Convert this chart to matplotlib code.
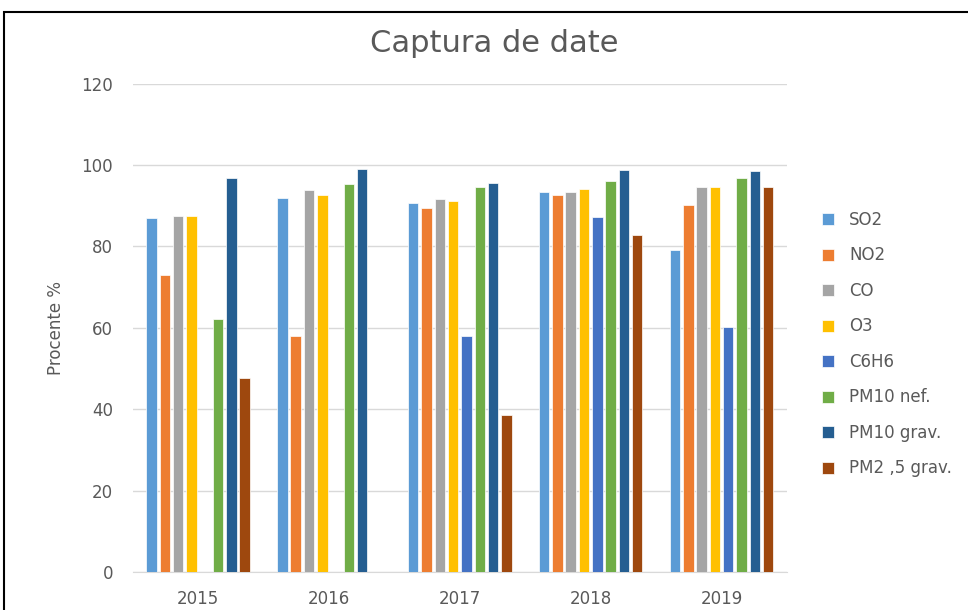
import matplotlib
matplotlib.use('Agg')
import matplotlib.pyplot as plt
import numpy as np
from matplotlib.patches import Rectangle

years = ['2015', '2016', '2017', '2018', '2019']
series = ['SO2', 'NO2', 'CO', 'O3', 'C6H6', 'PM10 nef.', 'PM10 grav.', 'PM2 ,5 grav.']

so2 = [87.1, 92.0, 90.6, 93.4, 79.1]
no2 = [73.1, 58.0, 89.4, 92.7, 90.2]
co = [87.5, 93.9, 91.6, 93.4, 94.5]
o3 = [87.5, 92.7, 91.2, 94.2, 94.5]
c6h6 = [np.nan, np.nan, 58.1, 87.2, 60.3]
pm10_nef = [62.1, 95.3, 94.5, 96.1, 96.7]
pm10_grav = [96.7, 98.9, 95.6, 98.7, 98.6]
pm25_grav = [47.7, np.nan, 38.5, 82.7, 94.5]

values = [so2, no2, co, o3, c6h6, pm10_nef, pm10_grav, pm25_grav]
colors = ['#5B9BD5', '#ED7D31', '#A5A5A5', '#FFC000', '#4472C4',
          '#70AD47', '#255E91', '#9E480E']

txt = '#595959'

fig = plt.figure(figsize=(9.68, 6.10), dpi=100)
ax = fig.add_axes([0.137, 0.062, 0.676, 0.801])

x = np.arange(len(years))
step = 0.1016
w = 0.08
for i, (name, vals) in enumerate(zip(series, values)):
    offs = (i - 3.5) * step
    ax.bar(x + offs, vals, w, color=colors[i], edgecolor='white',
           linewidth=0.5, label=name, zorder=3)

ax.set_xlim(-0.5, 4.5)
ax.set_ylim(0, 120)
ax.set_yticks(range(0, 121, 20))
ax.set_xticks(x)
ax.set_xticklabels(years)
ax.grid(axis='y', color='#D9D9D9', linewidth=1, zorder=0)
for s in ['top', 'right', 'left']:
    ax.spines[s].set_visible(False)
ax.spines['bottom'].set_color('#D9D9D9')
ax.tick_params(length=0, colors=txt, labelsize=12, pad=13)
ax.tick_params(axis='y', pad=14)
ax.set_ylabel('Procente %', color=txt, fontsize=12, labelpad=12)

fig.text(494 / 968, 1 - 43 / 610, 'Captura de date', ha='center', va='center',
         fontsize=22, color=txt)

leg = ax.legend(loc='upper left', bbox_to_anchor=(1.03, 0.77), frameon=False,
                fontsize=12, labelcolor=txt, handlelength=0.75,
                handleheight=0.75, labelspacing=1.05, handletextpad=0.9)

# chart frame
fig.patches.append(Rectangle((4 / 968, -0.1), 1.2, 0.1 + (610 - 12) / 610,
                             transform=fig.transFigure, fill=False,
                             edgecolor='black', linewidth=1.5))

fig.savefig('out.png', dpi=100)
